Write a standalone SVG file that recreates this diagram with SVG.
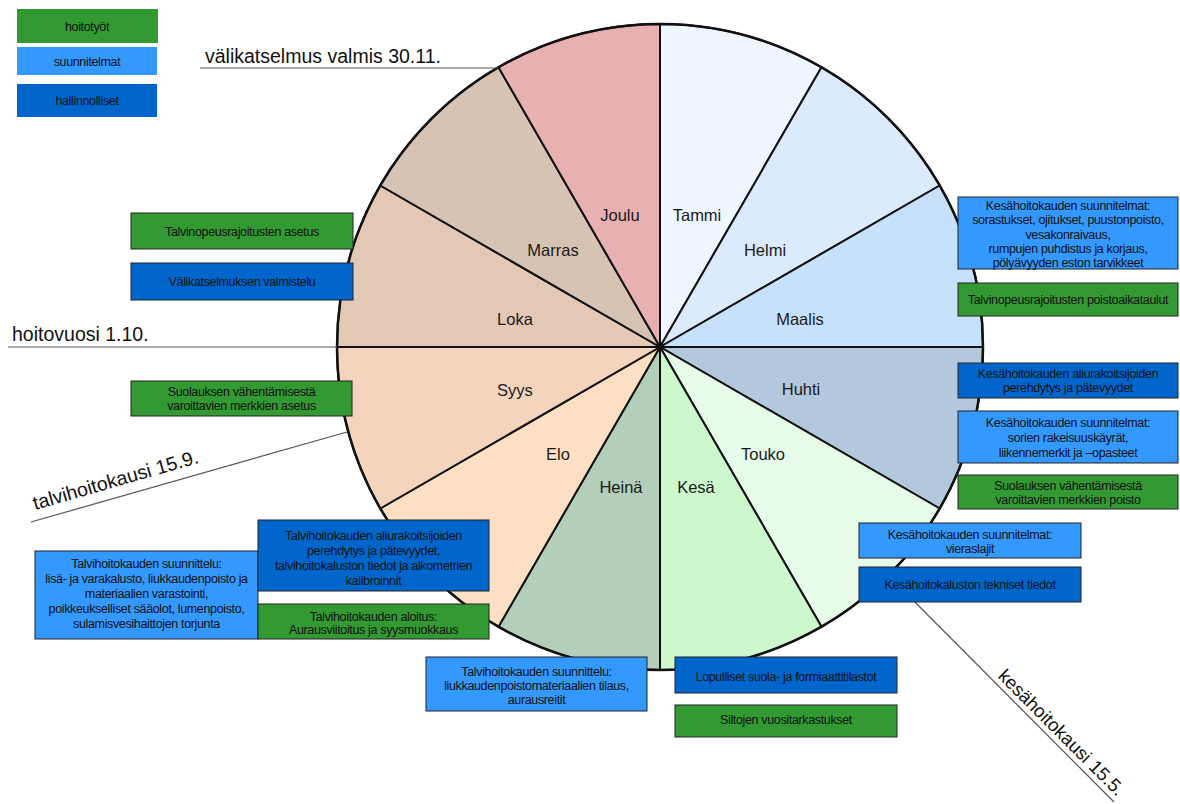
<svg xmlns="http://www.w3.org/2000/svg" width="1180" height="804" viewBox="0 0 1180 804">
<style>
.sec{stroke:#111;stroke-width:2;stroke-linejoin:round}
.mon{font-family:"Liberation Sans",Arial,sans-serif;font-size:16.5px;fill:#1a1a1a;text-anchor:middle}
.big{font-family:"Liberation Sans",Arial,sans-serif;font-size:19.5px;fill:#111}
.rot{font-family:"Liberation Sans",Arial,sans-serif;font-size:18.6px;fill:#111}
.lead{stroke:#555;stroke-width:1.2;fill:none}
.bx{stroke:#222;stroke-width:1}
.g{fill:#339933}
.l{fill:#3399ff}
.d{fill:#0066cc}
.t{font-family:"Liberation Sans",Arial,sans-serif;font-size:12.5px;letter-spacing:-0.35px;fill:#111;text-anchor:middle}
</style>
<rect width="1180" height="804" fill="#ffffff"/>
<g id="wheel">
<path class="sec" fill="#eef6ff" d="M660,347 L660,24 A323,323 0 0 1 821.5,67.3 Z"/>
<path class="sec" fill="#dbeafc" d="M660,347 L821.5,67.3 A323,323 0 0 1 939.7,185.5 Z"/>
<path class="sec" fill="#c7e1fa" d="M660,347 L939.7,185.5 A323,323 0 0 1 983,347 Z"/>
<path class="sec" fill="#b3c8dd" d="M660,347 L983,347 A323,323 0 0 1 939.7,508.5 Z"/>
<path class="sec" fill="#e6fbe8" d="M660,347 L939.7,508.5 A323,323 0 0 1 821.5,626.7 Z"/>
<path class="sec" fill="#cdf8cd" d="M660,347 L821.5,626.7 A323,323 0 0 1 660,670 Z"/>
<path class="sec" fill="#b3cfb9" d="M660,347 L660,670 A323,323 0 0 1 498.5,626.7 Z"/>
<path class="sec" fill="#fde0c3" d="M660,347 L498.5,626.7 A323,323 0 0 1 380.3,508.5 Z"/>
<path class="sec" fill="#f4d4bd" d="M660,347 L380.3,508.5 A323,323 0 0 1 337,347 Z"/>
<path class="sec" fill="#e4c8b6" d="M660,347 L337,347 A323,323 0 0 1 380.3,185.5 Z"/>
<path class="sec" fill="#d7c3b3" d="M660,347 L380.3,185.5 A323,323 0 0 1 498.5,67.3 Z"/>
<path class="sec" fill="#e8b1b1" d="M660,347 L498.5,67.3 A323,323 0 0 1 660,24 Z"/>
<circle cx="660" cy="347" r="323" fill="none" stroke="#111" stroke-width="2.5"/>
</g>
<g id="months">
<text class="mon" x="697" y="221">Tammi</text>
<text class="mon" x="765" y="256">Helmi</text>
<text class="mon" x="800" y="325">Maalis</text>
<text class="mon" x="801" y="395">Huhti</text>
<text class="mon" x="763" y="460">Touko</text>
<text class="mon" x="696" y="493">Kesä</text>
<text class="mon" x="621" y="493">Heinä</text>
<text class="mon" x="558" y="460">Elo</text>
<text class="mon" x="515" y="396">Syys</text>
<text class="mon" x="515" y="325">Loka</text>
<text class="mon" x="553" y="256">Marras</text>
<text class="mon" x="620" y="221">Joulu</text>
</g>
<g id="connectors">
<line class="lead" x1="200" y1="68" x2="498.5" y2="68"/>
<line class="lead" x1="8" y1="347" x2="337" y2="347"/>
<line class="lead" x1="31" y1="522" x2="347" y2="432"/>
<line class="lead" x1="888" y1="575" x2="1114" y2="802"/>
</g>
<g id="milestones">
<text class="big" x="205" y="63">välikatselmus valmis 30.11.</text>
<text class="big" x="12" y="341">hoitovuosi 1.10.</text>
<text class="big" transform="translate(35,510) rotate(-16)">talvihoitokausi 15.9.</text>
<text class="rot" transform="translate(997,677) rotate(45)">kesähoitokausi 15.5.</text>
</g>
<g id="legend">
<g id="leg-hoitotyot"><rect class="g" x="17" y="9" width="141" height="34"/><text class="t" x="87" y="31">hoitotyöt</text></g>
<g id="leg-suunnitelmat"><rect class="l" x="17" y="47" width="140" height="28"/><text class="t" x="87" y="66">suunnitelmat</text></g>
<g id="leg-hallinnolliset"><rect class="d" x="17" y="84" width="140" height="33"/><text class="t" x="87" y="105">hallinnolliset</text></g>
</g>
<g id="box-l1"><rect class="bx g" x="131" y="213" width="222" height="36"/><text class="t" x="242" y="235.5">Talvinopeusrajoitusten asetus</text></g>
<g id="box-l2"><rect class="bx d" x="131" y="263" width="222" height="37"/><text class="t" x="242" y="286">Välikatselmuksen valmistelu</text></g>
<g id="box-l3"><rect class="bx g" x="131" y="381" width="221" height="35"/><text class="t" x="241.5" y="395.5">Suolauksen vähentämisestä</text><text class="t" x="241.5" y="410">varoittavien merkkien asetus</text></g>
<g id="box-r1"><rect class="bx l" x="958" y="197" width="220" height="72"/>
<text class="t" x="1068" y="209.5">Kesähoitokauden suunnitelmat:</text>
<text class="t" x="1068" y="224">sorastukset, ojitukset, puustonpoisto,</text>
<text class="t" x="1068" y="238.5">vesakonraivaus,</text>
<text class="t" x="1068" y="253">rumpujen puhdistus ja korjaus,</text>
<text class="t" x="1068" y="267">pölyävyyden eston tarvikkeet</text></g>
<g id="box-r2"><rect class="bx g" x="958" y="283" width="220" height="33"/><text class="t" x="1068" y="304">Talvinopeusrajoitusten poistoaikataulut</text></g>
<g id="box-r3"><rect class="bx d" x="958" y="363" width="220" height="35"/><text class="t" x="1068" y="377.5">Kesähoitokauden aliurakoitsijoiden</text><text class="t" x="1068" y="391.5">perehdytys ja pätevyydet</text></g>
<g id="box-r4"><rect class="bx l" x="958" y="411" width="220" height="52"/><text class="t" x="1068" y="427">Kesähoitokauden suunnitelmat:</text><text class="t" x="1068" y="442">sorien rakeisuuskäyrät,</text><text class="t" x="1068" y="457">liikennemerkit ja –opasteet</text></g>
<g id="box-r5"><rect class="bx g" x="958" y="475" width="220" height="34"/><text class="t" x="1068" y="489.5">Suolauksen vähentämisestä</text><text class="t" x="1068" y="503.5">varoittavien merkkien poisto</text></g>
<g id="box-r6"><rect class="bx l" x="859" y="523" width="222" height="35"/><text class="t" x="970" y="539">Kesähoitokauden suunnitelmat:</text><text class="t" x="970" y="553">vieraslajit</text></g>
<g id="box-r7"><rect class="bx d" x="859" y="567" width="222" height="35"/><text class="t" x="970" y="589">Kesähoitokaluston tekniset tiedot</text></g>
<g id="box-bl1"><rect class="bx l" x="35" y="551" width="223" height="88"/>
<text class="t" x="146.5" y="568">Talvihoitokauden suunnittelu:</text>
<text class="t" x="146.5" y="583">lisä- ja varakalusto, liukkaudenpoisto ja</text>
<text class="t" x="146.5" y="598">materiaalien varastointi,</text>
<text class="t" x="146.5" y="613">poikkeukselliset sääolot, lumenpoisto,</text>
<text class="t" x="146.5" y="628">sulamisvesihaittojen torjunta</text></g>
<g id="box-bl2"><rect class="bx d" x="258" y="520" width="231" height="71"/>
<text class="t" x="373.5" y="539.5">Talvihoitokauden aliurakoitsijoiden</text>
<text class="t" x="373.5" y="554.5">perehdytys ja pätevyydet,</text>
<text class="t" x="373.5" y="569.5">talvihoitokaluston tiedot ja alkometrien</text>
<text class="t" x="373.5" y="584.5">kalibroinnit</text></g>
<g id="box-bl3"><rect class="bx g" x="258" y="604" width="231" height="35"/><text class="t" x="373.5" y="620.5">Talvihoitokauden aloitus:</text><text class="t" x="373.5" y="634">Aurausviitoitus ja syysmuokkaus</text></g>
<g id="box-b1"><rect class="bx l" x="426" y="657" width="221" height="54"/>
<text class="t" x="536.5" y="675.5">Talvihoitokauden suunnittelu:</text>
<text class="t" x="536.5" y="689.5">liukkaudenpoistomateriaalien tilaus,</text>
<text class="t" x="536.5" y="704">aurausreitit</text></g>
<g id="box-b2"><rect class="bx d" x="675" y="657" width="222" height="36"/><text class="t" x="786" y="680.5">Lopulliset suola- ja formiaattitilastot</text></g>
<g id="box-b3"><rect class="bx g" x="675" y="705" width="222" height="32"/><text class="t" x="786" y="724">Siltojen vuositarkastukset</text></g>
</svg>
